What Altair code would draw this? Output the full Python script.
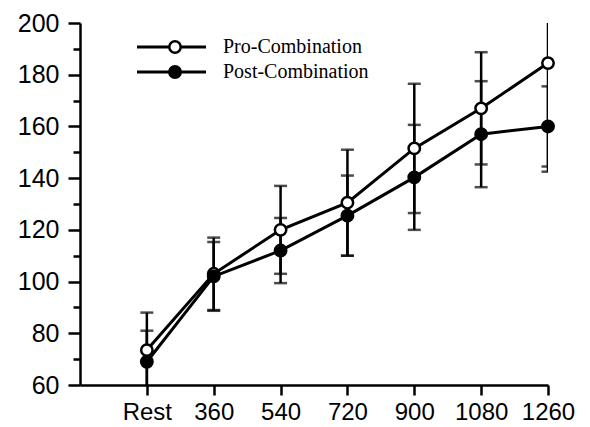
import json
import altair as alt
import pandas as pd

# ---- data ----
x_labels = ["Rest", "360", "540", "720", "900", "1080", "1260"]
series_names = ["Pro-Combination", "Post-Combination"]
pro_mean = [73.5, 103.0, 120.0, 130.5, 151.5, 167.0, 184.5]
pro_err = [14.5, 14.0, 17.0, 20.5, 25.0, 21.7, 42.0]
post_mean = [69.0, 102.0, 112.0, 125.5, 140.3, 157.0, 160.0]
post_err = [12.0, 13.3, 12.6, 15.5, 20.3, 20.5, 15.5]
y_ticks = [60, 70, 80, 90, 100, 110, 120, 130, 140, 150, 160, 170, 180, 190, 200]
x_positions = list(range(len(x_labels)))

rows = []
for name, means, errs in ((series_names[0], pro_mean, pro_err),
                          (series_names[1], post_mean, post_err)):
    for i, (m, e) in enumerate(zip(means, errs)):
        rows.append({"series": name, "idx": x_positions[i], "mean": m,
                     "lo": m - e, "hi": m + e})
df = pd.DataFrame(rows)

axis_common = dict(
    title=None, grid=False, domainColor="black", domainWidth=2.5,
    tickColor="black", tickWidth=2.5, labelFont="Liberation Sans",
    labelColor="black", labelOverlap=False, labelFlush=False,
)

x_axis = alt.Axis(
    values=x_positions,
    labelExpr=f"{json.dumps(x_labels)}[datum.value]",
    tickSize=10, labelPadding=5, labelFontSize=24, **axis_common,
)
y_axis = alt.Axis(
    values=y_ticks,
    labelExpr="datum.value % 20 === 0 ? datum.label : ''",
    tickSize=12, labelPadding=9, labelFontSize=25,
    tickDash=alt.condition("datum.value % 20 === 0", alt.value([20, 0]), alt.value([7, 30])),
    **axis_common,
)

x_enc = alt.X("idx:Q", scale=alt.Scale(domain=[-1, 6], nice=False, zero=False), axis=x_axis)
y_scale = alt.Scale(domain=[60, 200], nice=False, zero=False)

base = alt.Chart(df)

rules = base.mark_rule(clip=True, strokeWidth=2.5, color="black").encode(
    x=x_enc, y=alt.Y("lo:Q", scale=y_scale, axis=y_axis), y2="hi:Q"
)
caps_lo = base.mark_tick(orient="horizontal", size=13, thickness=2.5, clip=True, color="black").encode(
    x=x_enc, y=alt.Y("lo:Q", scale=y_scale, axis=y_axis)
)
caps_hi = base.mark_tick(orient="horizontal", size=13, thickness=2.5, clip=True, color="black").encode(
    x=x_enc, y=alt.Y("hi:Q", scale=y_scale, axis=y_axis)
)
lines = base.mark_line(color="black", strokeWidth=3).encode(
    x=x_enc, y=alt.Y("mean:Q", scale=y_scale, axis=y_axis), detail="series:N"
)
points = base.mark_point(shape="circle", filled=True, size=130, stroke="black",
                         strokeWidth=2.5, opacity=1).encode(
    x=x_enc, y=alt.Y("mean:Q", scale=y_scale, axis=y_axis),
    fill=alt.Fill("series:N", scale=alt.Scale(domain=series_names, range=["white", "black"]), legend=None),
)

# ---- manual legend ----
legend_layers = []
legend_fills = ["white", "black"]
for i, name in enumerate(series_names):
    ypos = 24 + 25 * i
    ldata = pd.DataFrame({"label": [name]})
    lb = alt.Chart(ldata)
    legend_layers.append(lb.mark_rule(color="black", strokeWidth=3).encode(
        x=alt.value(57), x2=alt.value(126), y=alt.value(ypos)))
    legend_layers.append(lb.mark_point(shape="circle", filled=True, size=130, stroke="black",
                                       strokeWidth=2.5, opacity=1, fill=legend_fills[i]).encode(
        x=alt.value(95), y=alt.value(ypos)))
    legend_layers.append(lb.mark_text(font="Liberation Serif", fontSize=20, align="left",
                                      baseline="middle", color="black").encode(
        x=alt.value(143), y=alt.value(ypos), text="label:N"))

chart = alt.layer(rules, caps_lo, caps_hi, lines, points, *legend_layers).properties(
    width=468, height=362,
    autosize=alt.AutoSizeParams(type="none"),
    padding={"left": 72, "top": 15, "right": 34, "bottom": 42},
).configure_view(stroke=None)

chart.save("out.html", embed_options={"renderer": "svg", "actions": False})
